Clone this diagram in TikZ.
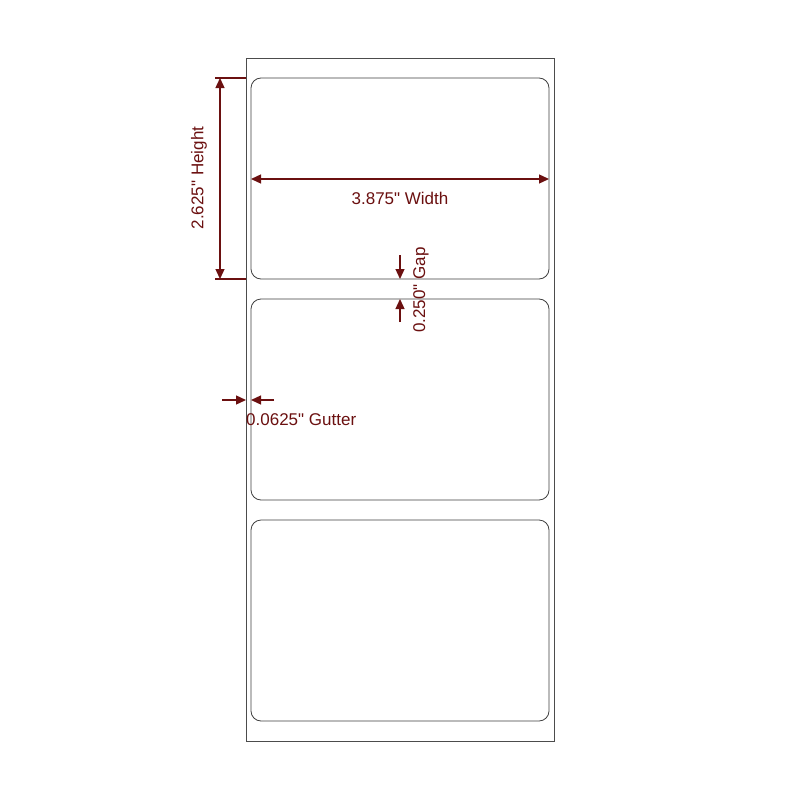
\documentclass[tikz,border=0pt]{standalone}
\usepackage{fontspec}
\setmainfont{Liberation Sans}[Ligatures=TeXOff]
\usetikzlibrary{arrows.meta}
\definecolor{dim}{HTML}{6B1010}
\tikzset{
  sheet/.style={draw=black!70, line width=0.8pt},
  label/.style={draw=black!75, line width=0.8pt, rounded corners=10pt},
  dimline/.style={draw=dim, line width=1.3pt},
  dimarrow/.style={dimline, -{Triangle[length=10pt,width=9pt]}},
  dimboth/.style={dimline, {Triangle[length=10pt,width=9pt]}-{Triangle[length=10pt,width=9pt]}},
  dimtext/.style={text=dim, font=\fontsize{17}{19}\selectfont, inner sep=0pt}
}
\begin{document}
\begin{tikzpicture}[x=1pt,y=-1pt]
\useasboundingbox (0,0) rectangle (800,800);
\fill[white] (0,0) rectangle (800,800);
\draw[sheet] (246,58) rectangle (554,741);
\draw[label] (251,78) rectangle (549,279);
\draw[label] (251,299) rectangle (549,500);
\draw[label] (251,520) rectangle (549,721);
% height
\coordinate (ht) at (220,78);
\coordinate (hb) at (220,279);
\coordinate (htr) at (246,78);
\coordinate (hbr) at (246,279);
\draw[dimline] (215,78) -- (htr);
\draw[dimline] (215,279) -- (hbr);
\draw[dimboth] (hb) -- (ht);
\node[dimtext, rotate=90] (htxt) at (199,178) {2.625" Height};
% width
\coordinate (wl) at (251,179);
\coordinate (wr) at (549,179);
\draw[dimboth] (wl) -- (wr);
\node[dimtext] (wtxt) at (400,198) {3.875" Width};
% gap
\coordinate (g1s) at (400,255);
\coordinate (g1e) at (400,279);
\coordinate (g2s) at (400,322);
\coordinate (g2e) at (400,299);
\draw[dimarrow] (g1s) -- (g1e);
\draw[dimarrow] (g2s) -- (g2e);
\node[dimtext, rotate=90] (gtxt) at (421,290) {0.250" Gap};
% gutter
\coordinate (u1s) at (222,400);
\coordinate (u1e) at (246,400);
\coordinate (u2s) at (274,400);
\coordinate (u2e) at (251,400);
\draw[dimarrow] (u1s) -- (u1e);
\draw[dimarrow] (u2s) -- (u2e);
\node[dimtext, anchor=west] (utxt) at (246,420) {0.0625" Gutter};
\end{tikzpicture}
\end{document}
